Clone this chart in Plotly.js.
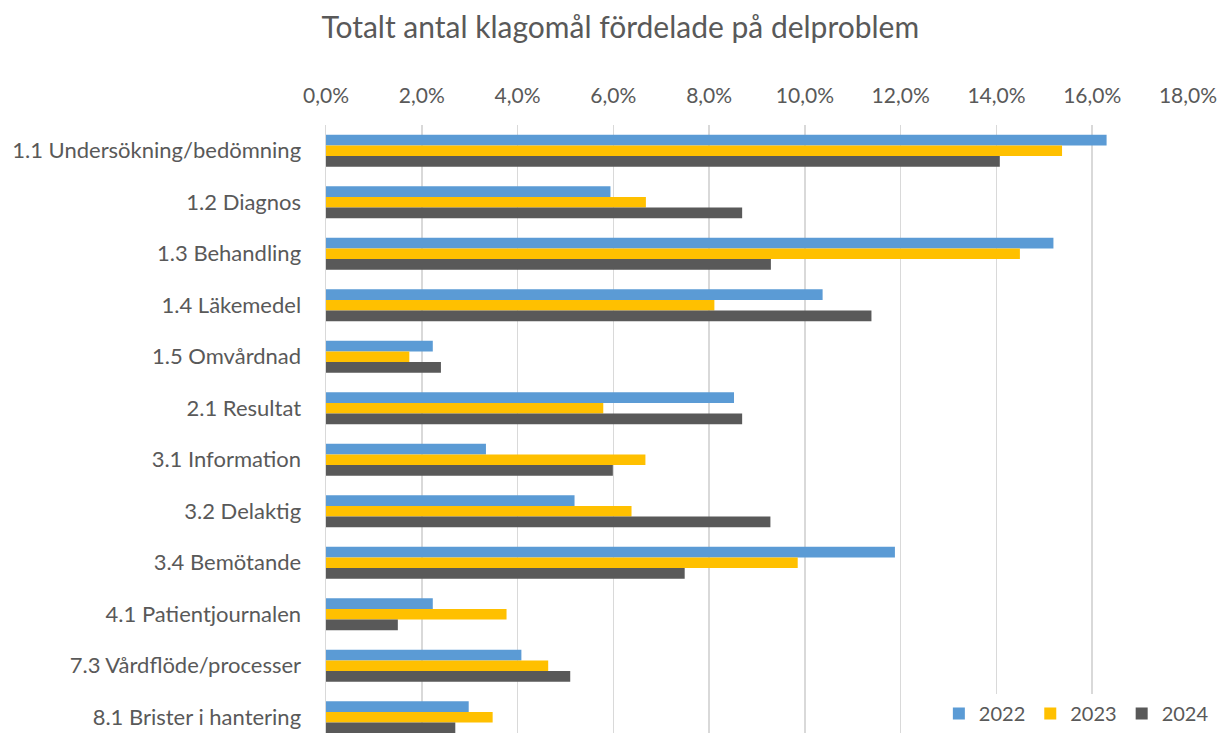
<!DOCTYPE html>
<html>
<head>
<meta charset="utf-8">
<script src="https://cdn.plot.ly/plotly-3.0.1.min.js"></script>
<style>html,body{margin:0;padding:0;background:#fff;}#chart{width:1221px;height:733px;}</style>
</head>
<body>
<div id="chart"></div>
<script>
const categories = [
  "1.1 Undersökning/bedömning",
  "1.2 Diagnos",
  "1.3 Behandling",
  "1.4 Läkemedel",
  "1.5 Omvårdnad",
  "2.1 Resultat",
  "3.1 Information",
  "3.2 Delaktig",
  "3.4 Bemötande",
  "4.1 Patientjournalen",
  "7.3 Vårdflöde/processer",
  "8.1 Brister i hantering"
];
const seriesNames = ["2022", "2023", "2024"];
const values2022 = [16.30, 5.94, 15.19, 10.37, 2.23, 8.52, 3.34, 5.19, 11.88, 2.23, 4.08, 2.98];
const values2023 = [15.37, 6.68, 14.49, 8.11, 1.74, 5.79, 6.67, 6.38, 9.85, 3.77, 4.64, 3.48];
const values2024 = [14.07, 8.69, 9.29, 11.39, 2.40, 8.69, 5.99, 9.28, 7.49, 1.50, 5.10, 2.70];
const colors = ["#5B9BD5", "#FFC000", "#595959"];
const tickVals = [0, 2, 4, 6, 8, 10, 12, 14, 16, 18];
const tickLabels = ["0,0%", "2,0%", "4,0%", "6,0%", "8,0%", "10,0%", "12,0%", "14,0%", "16,0%", "18,0%"];

const allValues = [values2022, values2023, values2024];
const traces = allValues.map((v, i) => ({
  type: "bar",
  orientation: "h",
  name: seriesNames[i],
  y: categories,
  x: v,
  marker: {color: colors[i], line: {width: 0}},
  hoverinfo: "x+y+name"
}));

const font = "Lato, 'Open Sans', sans-serif";
const layout = {
  width: 1221,
  height: 733,
  paper_bgcolor: "#ffffff",
  plot_bgcolor: "#ffffff",
  separators: ", ",
  margin: {l: 326, r: 33, t: 125, b: 0, pad: 0},
  barmode: "group",
  bargap: 0.38,
  bargroupgap: 0,
  title: {
    text: "Totalt antal klagomål fördelade på delproblem",
    font: {family: font, size: 30, color: "#595959"},
    x: 0.508, xref: "container", xanchor: "center",
    y: 0.962, yref: "container", yanchor: "middle"
  },
  xaxis: {
    side: "top",
    range: [0, 18],
    tickmode: "array",
    tickvals: tickVals,
    ticktext: tickLabels,
    showgrid: true,
    gridcolor: "#d9d9d9",
    gridwidth: 1.5,
    zeroline: false,
    showline: false,
    ticks: "",
    ticklabelstandoff: 17,
    tickfont: {family: font, size: 21, color: "#595959"},
    fixedrange: true
  },
  yaxis: {
    type: "category",
    range: [11.306, -0.5],
    autorange: false,
    showgrid: false,
    zeroline: false,
    showline: true,
    linecolor: "#d9d9d9",
    linewidth: 1.5,
    ticks: "",
    ticklabelstandoff: 19,
    tickfont: {family: font, size: 22, color: "#595959"},
    fixedrange: true
  },
  showlegend: true,
  legend: {
    orientation: "h",
    x: 1.03, xanchor: "right",
    y: 0.0, yanchor: "bottom",
    bgcolor: "#ffffff",
    font: {family: font, size: 20, color: "#595959"},
    itemwidth: 30,
    traceorder: "normal"
  }
};

Plotly.newPlot("chart", traces, layout, {displayModeBar: false, staticPlot: true});
</script>
</body>
</html>
